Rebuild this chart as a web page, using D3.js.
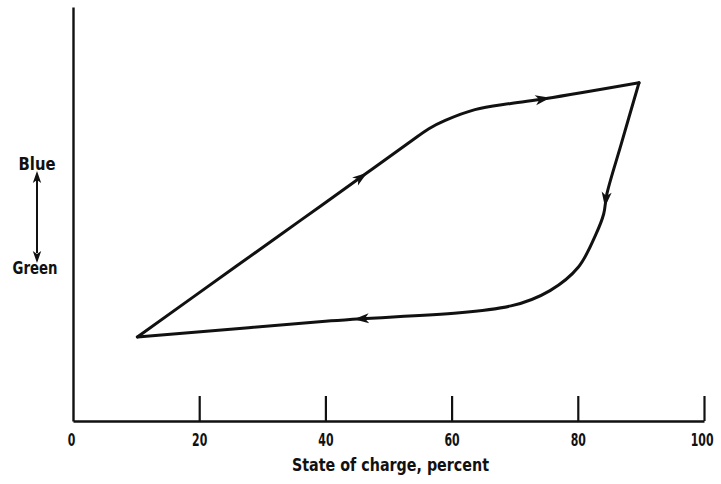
<!DOCTYPE html>
<html>
<head>
<meta charset="utf-8">
<script src="https://cdn.jsdelivr.net/npm/d3@7"></script>
<style>
  html, body { margin: 0; padding: 0; background: #fff; }
  svg text { font-family: "DejaVu Sans", "Liberation Sans", sans-serif; font-weight: bold; fill: #111; }
</style>
</head>
<body>
<svg id="chart" width="721" height="484"></svg>
<script>
// Colour of the electrolyte against state of charge over one charge/discharge cycle.
// Vertical axis is qualitative: 0 = bottom of the frame, 100 = top.
const xTicks = [0, 20, 40, 60, 80, 100];

// Charging branch (left to right, along the upper side of the loop)
const chargeSOC    = [10.2, 25.8, 36.0, 46.1, 53.5, 56.4, 59.0, 63.7, 69.4, 75.0, 89.7];
const chargeColour = [20.3, 37.3, 48.4, 59.4, 67.5, 70.6, 72.6, 75.2, 76.7, 77.9, 81.7];

// Discharging branch (right to left, along the lower side of the loop)
const dischargeSOC    = [89.7, 86.9, 84.6, 84.1, 82.9, 80.1, 75.6, 69.4, 40.0, 10.2];
const dischargeColour = [81.7, 67.0, 54.8, 50.0, 45.2, 37.2, 31.5, 27.8, 24.1, 20.3];

// Direction arrows: branch and state of charge where each arrow sits
const arrowBranch = ["charge", "charge", "discharge", "discharge"];
const arrowSOC    = [46.6, 75.6, 84.3, 44.5];

const axisLabel = "State of charge, percent";
const upperLabel = "Blue";
const lowerLabel = "Green";

const svg = d3.select("#chart");
const ink = "#111";

// Narrow lettering: squeeze a text element to a given width
function narrow(sel, width) {
  sel.attr("textLength", width).attr("lengthAdjust", "spacingAndGlyphs");
}

const x = d3.scaleLinear().domain([0, 100]).range([73, 704]);
const y = d3.scaleLinear().domain([0, 100]).range([421, 7]);

// Axes
const xAxis = d3.axisBottom(x)
  .tickValues(xTicks)
  .tickSizeInner(-25)
  .tickSizeOuter(0)
  .tickPadding(12);

const gx = svg.append("g")
  .attr("transform", `translate(0,${y(0)})`)
  .call(xAxis);
gx.attr("font-family", null).attr("font-size", null);
gx.select(".domain").attr("stroke", ink).attr("stroke-width", 2.4);
gx.selectAll(".tick line").attr("stroke", ink).attr("stroke-width", 2.2);
gx.selectAll(".tick").filter(d => d === 0).select("line").remove();
gx.selectAll(".tick text")
  .style("font-size", "18px")
  .attr("fill", ink)
  .attr("dx", d => d === 0 ? -2 : 0)
  .each(function () {
    const t = d3.select(this);
    narrow(t, t.text().length * 7.6);
  });
// last label sits flush with the right end of the axis
gx.selectAll(".tick text").filter(d => d === 100)
  .attr("text-anchor", "end")
  .attr("dx", 9);

const yAxis = d3.axisLeft(y).ticks(0).tickSizeOuter(0);
const gy = svg.append("g")
  .attr("transform", `translate(${x(0)},0)`)
  .call(yAxis);
gy.select(".domain").attr("stroke", ink).attr("stroke-width", 2.4);

svg.append("text")
  .attr("x", 390.5)
  .attr("y", 471)
  .attr("text-anchor", "middle")
  .style("font-size", "17px")
  .text(axisLabel)
  .call(narrow, 197);

// Qualitative colour scale on the vertical axis
const labelX = 37;
svg.append("text").attr("x", labelX).attr("y", 170)
  .attr("text-anchor", "middle").style("font-size", "17px").text(upperLabel)
  .call(narrow, 37);
svg.append("text").attr("x", 35).attr("y", 274)
  .attr("text-anchor", "middle").style("font-size", "17px").text(lowerLabel)
  .call(narrow, 45);

svg.append("line")
  .attr("x1", labelX).attr("x2", labelX)
  .attr("y1", 180).attr("y2", 253)
  .attr("stroke", ink).attr("stroke-width", 2);

const headShape = "M0,0 L-12,-4.2 L-9,0 L-12,4.2 Z";
[[171, -90], [263, 90]].forEach(([tipY, ang]) => {
  svg.append("path")
    .attr("d", headShape)
    .attr("fill", ink)
    .attr("transform", `translate(${labelX},${tipY}) rotate(${ang})`);
});

// Loop branches
const line = d3.line()
  .x(d => x(d[0]))
  .y(d => y(d[1]))
  .curve(d3.curveCatmullRom.alpha(0.5));

const branches = {
  charge: d3.zip(chargeSOC, chargeColour),
  discharge: d3.zip(dischargeSOC, dischargeColour)
};

const paths = {};
for (const key of Object.keys(branches)) {
  paths[key] = svg.append("path")
    .datum(branches[key])
    .attr("d", line)
    .attr("fill", "none")
    .attr("stroke", ink)
    .attr("stroke-width", 3)
    .attr("stroke-linejoin", "round")
    .attr("stroke-linecap", "round");
}

// Arrowheads placed on the drawn branches, pointing along the direction of travel
arrowBranch.forEach((branch, i) => {
  const node = paths[branch].node();
  const total = node.getTotalLength();
  const target = x(arrowSOC[i]);
  let best = 0, bestDist = Infinity;
  for (let l = 0; l <= total; l += 0.5) {
    const p = node.getPointAtLength(l);
    const dd = Math.abs(p.x - target);
    if (dd < bestDist) { bestDist = dd; best = l; }
  }
  const tip = node.getPointAtLength(best);
  const back = node.getPointAtLength(Math.max(0, best - 4));
  const ang = Math.atan2(tip.y - back.y, tip.x - back.x) * 180 / Math.PI;
  svg.append("path")
    .attr("d", "M0,0 L-15,-5 L-11,0 L-15,5 Z")
    .attr("fill", ink)
    .attr("transform", `translate(${tip.x},${tip.y}) rotate(${ang})`);
});
</script>
</body>
</html>
